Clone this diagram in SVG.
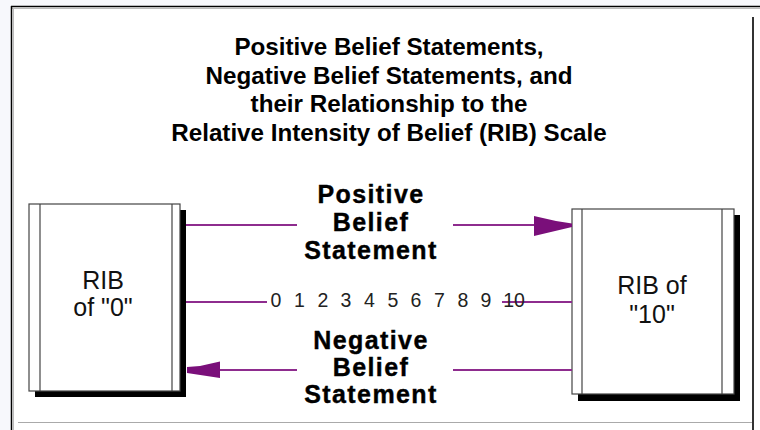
<svg xmlns="http://www.w3.org/2000/svg" width="760" height="430" viewBox="0 0 760 430">
<style>
.title{font-family:"Liberation Sans",Arial,sans-serif;font-weight:bold;font-size:24.2px;fill:#000;text-anchor:middle}
.lbl{font-family:"Liberation Sans",Arial,sans-serif;font-weight:bold;font-size:25px;letter-spacing:1.4px;fill:#000;stroke:#000;stroke-width:0.4;text-anchor:middle}
.box{fill:#fff;stroke:#444;stroke-width:1.2}
.inner{stroke:#444;stroke-width:1.2}
.shadow{fill:#000}
.btxt{font-family:"Liberation Sans",Arial,sans-serif;font-size:25px;fill:#111;text-anchor:middle}
.num{font-family:"Liberation Sans",Arial,sans-serif;font-size:19.5px;fill:#222;text-anchor:middle}
.conn{stroke:#8e2c8e;stroke-width:1.8;fill:none}
.head{fill:#7a0f7a}
</style>
<rect x="0" y="0" width="760" height="430" fill="#f7f8fc"/>
<rect x="12" y="7" width="748" height="423" fill="#fff"/>
<line x1="11" y1="6.5" x2="760" y2="6.5" stroke="#000" stroke-width="1.5"/>
<line x1="12" y1="8.5" x2="760" y2="8.5" stroke="#bbb" stroke-width="1"/>
<line x1="11.5" y1="6" x2="11.5" y2="430" stroke="#000" stroke-width="1.5"/>
<line x1="13.5" y1="8" x2="13.5" y2="430" stroke="#bbb" stroke-width="1"/>
<line x1="18" y1="422.5" x2="753" y2="422.5" stroke="#aaa" stroke-width="1"/>
<line x1="753" y1="17" x2="753" y2="430" stroke="#333" stroke-width="2"/>

<g id="title">
<text class="title" x="389" y="55">Positive Belief Statements,</text>
<text class="title" x="389" y="83.5">Negative Belief Statements, and</text>
<text class="title" x="389" y="112">their Relationship to the</text>
<text class="title" x="389" y="140.5">Relative Intensity of Belief (RIB) Scale</text>
</g>

<g id="rib0">
<rect class="shadow" x="35" y="210" width="151" height="187"/>
<rect class="box" x="29" y="204" width="151" height="187"/>
<line class="inner" x1="40" y1="204" x2="40" y2="391"/>
<line class="inner" x1="172" y1="204" x2="172" y2="391"/>
<text class="btxt" x="103" y="289">RIB</text>
<text class="btxt" x="103" y="316">of "0"</text>
</g>

<g id="rib10">
<rect class="shadow" x="578" y="215" width="162" height="186"/>
<rect class="box" x="572" y="209" width="162" height="185"/>
<line class="inner" x1="582" y1="209" x2="582" y2="394"/>
<line class="inner" x1="722" y1="209" x2="722" y2="394"/>
<text class="btxt" x="652" y="294">RIB of</text>
<text class="btxt" x="652" y="323">"10"</text>
</g>

<g id="connectors">
<line class="conn" x1="186" y1="225" x2="297" y2="225"/>
<line class="conn" x1="453" y1="225" x2="540" y2="225"/>
<polygon class="head" points="534,216 556,221 572,223.5 572,227 534,236"/>
<line class="conn" x1="186" y1="302" x2="267" y2="302"/>
<line class="conn" x1="502" y1="302" x2="572" y2="302"/>
<line class="conn" x1="215" y1="370" x2="297" y2="370"/>
<line class="conn" x1="453" y1="370" x2="572" y2="370"/>
<polygon class="head" points="187,367 200,366 220,361.5 220,378 187,373"/>
</g>

<g id="positive-label">
<text class="lbl" x="371" y="203">Positive</text>
<text class="lbl" x="371" y="231">Belief</text>
<text class="lbl" x="371" y="259">Statement</text>
</g>

<g id="scale">
<text class="num" x="276" y="307">0</text>
<text class="num" x="299.5" y="307">1</text>
<text class="num" x="323" y="307">2</text>
<text class="num" x="346" y="307">3</text>
<text class="num" x="369.5" y="307">4</text>
<text class="num" x="393" y="307">5</text>
<text class="num" x="416" y="307">6</text>
<text class="num" x="439.5" y="307">7</text>
<text class="num" x="463" y="307">8</text>
<text class="num" x="486" y="307">9</text>
<text class="num" x="514" y="307">10</text>
</g>

<g id="negative-label">
<text class="lbl" x="371" y="349">Negative</text>
<text class="lbl" x="371" y="376">Belief</text>
<text class="lbl" x="371" y="403">Statement</text>
</g>
</svg>
